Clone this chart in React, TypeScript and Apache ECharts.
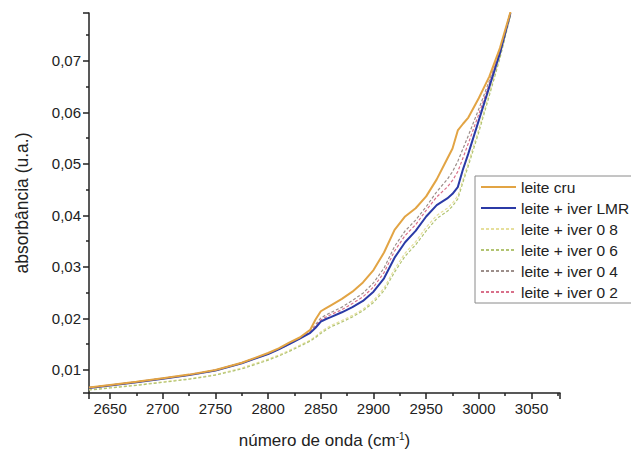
import { useEffect, useRef } from 'react'
import * as echarts from 'echarts'

// wavenumber (cm-1)
const waveNumbers = [
  2630, 2650, 2675, 2700, 2725, 2750, 2775, 2800, 2810, 2820, 2830, 2840, 2845, 2850, 2855, 2860,
  2870, 2880, 2890, 2900, 2910, 2920, 2930, 2940, 2950, 2960, 2970, 2975, 2980, 2985, 2990, 3000,
  3010, 3020, 3030,
]

const leiteCru = [
  0.0066, 0.0071, 0.0077, 0.0084, 0.0091, 0.01, 0.0114, 0.0133, 0.0142, 0.0153, 0.0163, 0.0178,
  0.0198, 0.0214, 0.022, 0.0226, 0.0238, 0.0252, 0.027, 0.0294, 0.0328, 0.0372, 0.0398, 0.0414,
  0.0437, 0.047, 0.051, 0.053, 0.0565, 0.0578, 0.059, 0.0628, 0.067, 0.0725, 0.0795,
]
const iverLMR = [
  0.0065, 0.007, 0.0076, 0.0083, 0.009, 0.0099, 0.0113, 0.0131, 0.014, 0.015, 0.0161, 0.0172,
  0.0182, 0.0194, 0.0199, 0.0203, 0.0212, 0.0222, 0.0234, 0.0252, 0.0278, 0.0318, 0.0348, 0.037,
  0.0398, 0.042, 0.0433, 0.0442, 0.0455, 0.049, 0.052, 0.0585, 0.065, 0.0715, 0.0793,
]
const iver08 = [
  0.0062, 0.0066, 0.0071, 0.0077, 0.0083, 0.0091, 0.0104, 0.0121, 0.0129, 0.0138, 0.0148, 0.0158,
  0.0165, 0.0174, 0.0181, 0.0187, 0.0196, 0.0206, 0.0218, 0.0235, 0.0259, 0.0296, 0.0327, 0.0349,
  0.0377, 0.04, 0.0414, 0.0424, 0.0438, 0.047, 0.0502, 0.0568, 0.0638, 0.0708, 0.079,
]
const iver06 = [
  0.0061, 0.0065, 0.007, 0.0076, 0.0082, 0.009, 0.0102, 0.0119, 0.0127, 0.0136, 0.0146, 0.0156,
  0.0163, 0.0171, 0.0178, 0.0184, 0.0193, 0.0203, 0.0215, 0.0231, 0.0254, 0.029, 0.0321, 0.0343,
  0.037, 0.0394, 0.0408, 0.0418, 0.0432, 0.0465, 0.0496, 0.0562, 0.0633, 0.0705, 0.0788,
]
const iver04 = [
  0.0065, 0.007, 0.0076, 0.0083, 0.009, 0.0099, 0.0113, 0.0131, 0.014, 0.015, 0.0161, 0.0175,
  0.0188, 0.0201, 0.0207, 0.0212, 0.0222, 0.0235, 0.0249, 0.0269, 0.0298, 0.034, 0.037, 0.0391,
  0.0417, 0.0446, 0.047, 0.0485, 0.0505, 0.053, 0.0555, 0.0607, 0.0662, 0.0721, 0.0794,
]
const iver02 = [
  0.0066, 0.0071, 0.0077, 0.0084, 0.0091, 0.01, 0.0114, 0.0132, 0.0141, 0.0151, 0.0162, 0.0174,
  0.0185, 0.0197, 0.0203, 0.0208, 0.0217, 0.0229, 0.0242, 0.0261, 0.0289, 0.0331, 0.0361, 0.0382,
  0.041, 0.0436, 0.0455, 0.0468, 0.0485, 0.0512, 0.054, 0.0597, 0.0656, 0.0718, 0.0794,
]

const FONT = 'Liberation Sans, Arial, sans-serif'

const pairs = (ys: number[]) => waveNumbers.map((x, i) => [x, ys[i]])

export default function App() {
  const chartRef = useRef<HTMLDivElement | null>(null)

  useEffect(() => {
    if (!chartRef.current) {
      return
    }

    const chart = echarts.init(chartRef.current, null, { renderer: 'svg' })
    const dashed = (name: string, color: string, ys: number[]) => ({
      name,
      type: 'line',
      data: pairs(ys),
      symbol: 'none',
      lineStyle: { color, width: 1.2, type: [3, 2] },
      itemStyle: { color },
    })

    chart.setOption({
      animation: false,
      textStyle: { fontFamily: FONT },
      grid: { left: 89, right: 71, top: 13, bottom: 61 },
      legend: {
        orient: 'vertical',
        left: 475,
        top: 176,
        // box runs past the right edge, as in the original figure
        padding: [3, 20, 3, 5],
        itemWidth: 35,
        itemHeight: 15,
        itemGap: 5,
        itemStyle: { opacity: 0 },
        borderColor: '#8a8a8a',
        borderWidth: 1,
        backgroundColor: '#fff',
        textStyle: { fontFamily: FONT, fontSize: 15.5, color: '#222' },
        data: [
          'leite cru',
          'leite + iver LMR',
          'leite + iver 0 8',
          'leite + iver 0 6',
          'leite + iver 0 4',
          'leite + iver 0 2',
        ],
      },
      xAxis: {
        type: 'value',
        min: 2630,
        max: 3077,
        splitNumber: 9,
        name: 'número de onda (cm{sup|-1})',
        nameLocation: 'middle',
        nameGap: 38,
        nameTextStyle: {
          fontFamily: FONT,
          fontSize: 17,
          color: '#222',
          rich: { sup: { fontSize: 10, verticalAlign: 'top', padding: [0, 0, 8, 0], color: '#222' } },
        },
        axisLine: { lineStyle: { color: '#222', width: 1.5 } },
        axisTick: { inside: false, length: 6, lineStyle: { color: '#222', width: 1.5 } },
        minorTick: { show: true, splitNumber: 2, length: 3, lineStyle: { color: '#222', width: 1.5 } },
        axisLabel: {
          fontFamily: FONT,
          fontSize: 15,
          color: '#222',
          margin: 8,
          showMinLabel: false,
          showMaxLabel: false,
          formatter: (v: number) => String(v),
        },
        splitLine: { show: false },
      },
      yAxis: {
        type: 'value',
        min: 0.00553,
        max: 0.0793,
        splitNumber: 7,
        name: 'absorbância (u.a.)',
        nameLocation: 'middle',
        nameGap: 58,
        nameTextStyle: { fontFamily: FONT, fontSize: 17.5, color: '#222' },
        axisLine: { show: true, lineStyle: { color: '#222', width: 1.5 } },
        axisTick: { show: true, inside: false, length: 6, lineStyle: { color: '#222', width: 1.5 } },
        minorTick: { show: true, splitNumber: 2, length: 3, lineStyle: { color: '#222', width: 1.5 } },
        axisLabel: {
          fontFamily: FONT,
          fontSize: 15,
          color: '#222',
          margin: 8,
          showMinLabel: false,
          showMaxLabel: false,
          formatter: (v: number) => v.toFixed(2).replace('.', ','),
        },
        splitLine: { show: false },
      },
      series: [
        dashed('leite + iver 0 8', '#e6df9c', iver08),
        dashed('leite + iver 0 6', '#b2c472', iver06),
        dashed('leite + iver 0 4', '#9c8e8a', iver04),
        dashed('leite + iver 0 2', '#d9708a', iver02),
        {
          name: 'leite + iver LMR',
          type: 'line',
          data: pairs(iverLMR),
          symbol: 'none',
          lineStyle: { color: '#2b3aa6', width: 2 },
          itemStyle: { color: '#2b3aa6' },
        },
        {
          name: 'leite cru',
          type: 'line',
          data: pairs(leiteCru),
          symbol: 'none',
          lineStyle: { color: '#e2a444', width: 2 },
          itemStyle: { color: '#e2a444' },
        },
      ],
    })

    return () => {
      chart.dispose()
    }
  }, [])

  return (
    <div
      ref={chartRef}
      style={{ position: 'fixed', left: 0, top: 0, width: 631, height: 454, background: '#fff' }}
    />
  )
}
